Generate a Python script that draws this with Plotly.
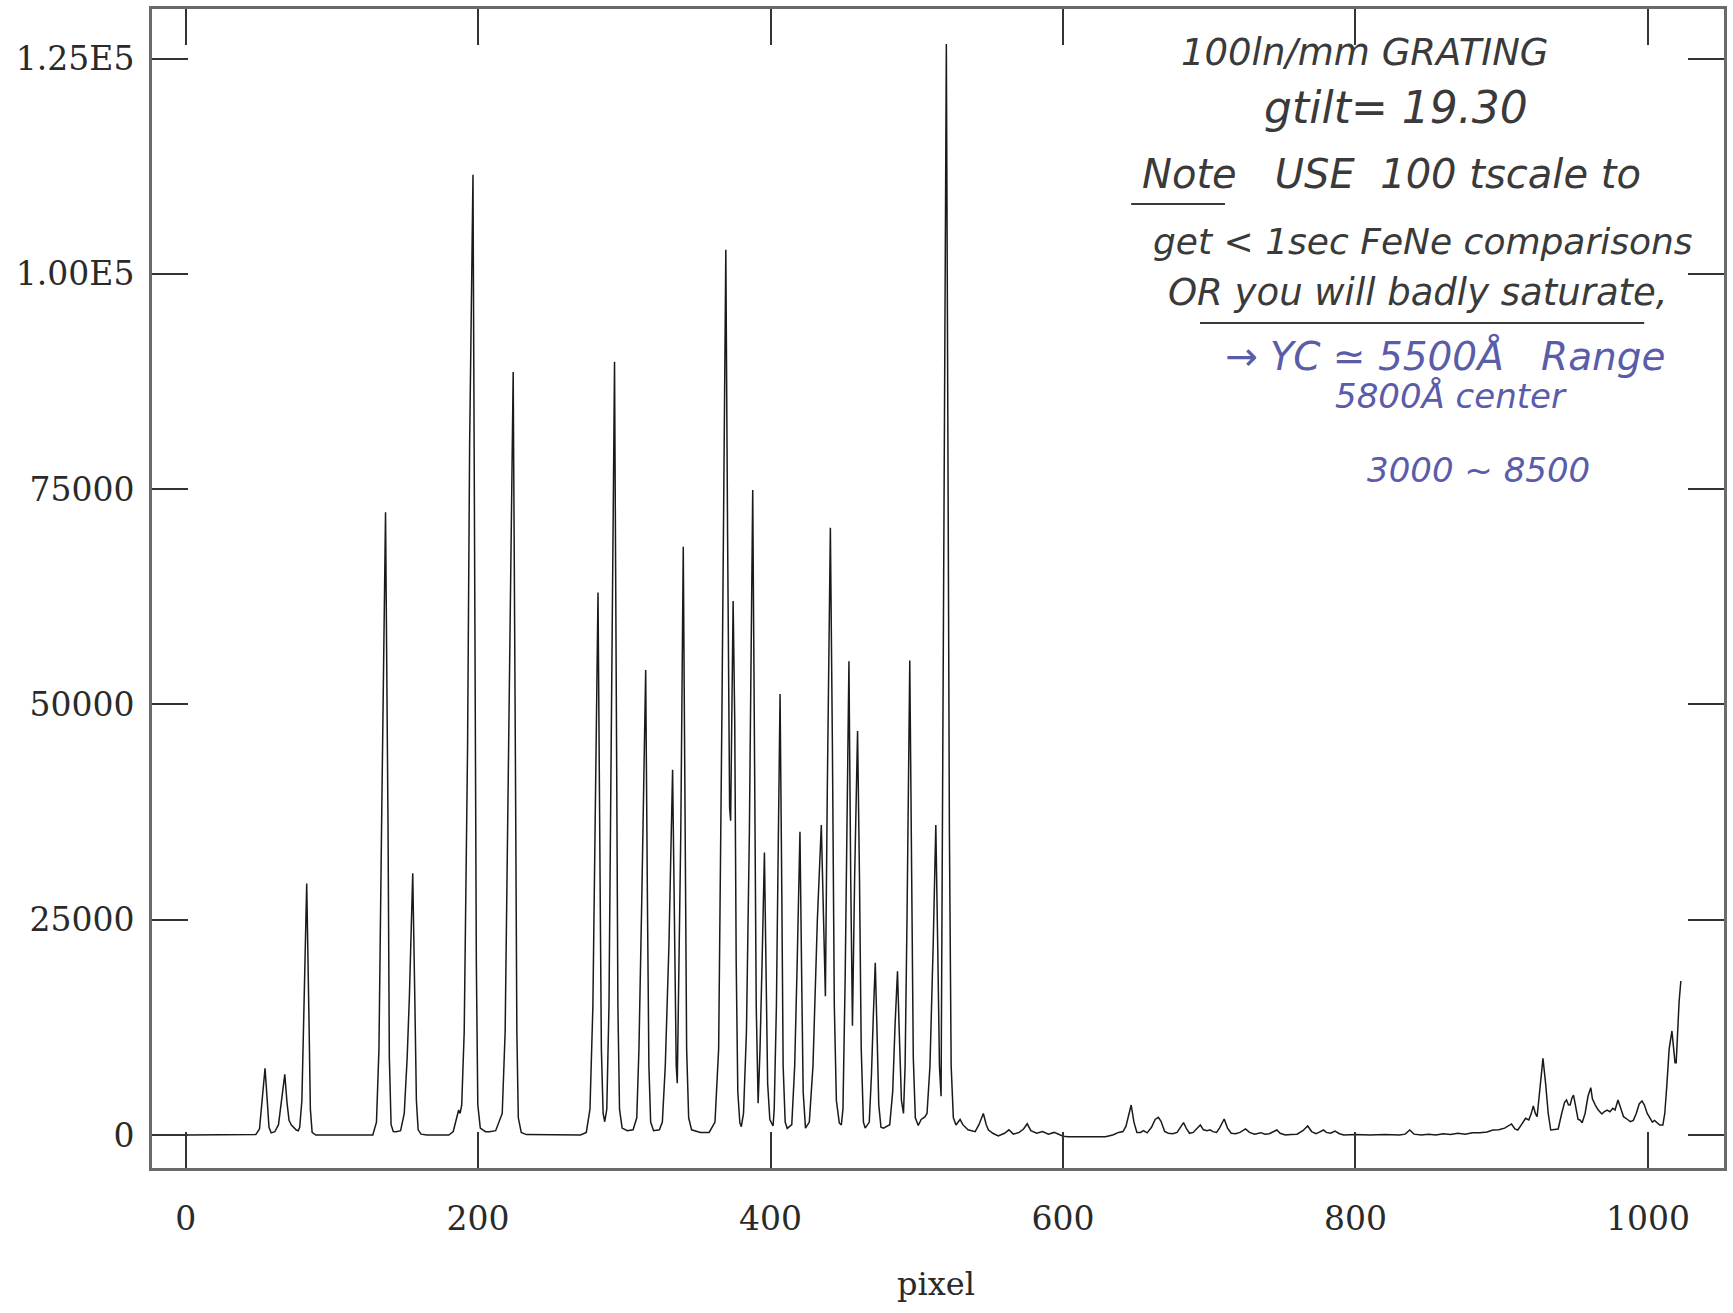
import plotly.graph_objects as go

# ---- data (pixel, counts) ----
pixel = [
    0, 20, 40, 48, 50.5, 52, 54.3, 55.8, 57, 58.5, 61,
    63.5, 65.5, 67.8, 69.3, 70.7, 72.3, 74, 75.7, 77,
    78, 79.5, 80.5, 82.8, 84.3, 85.3, 86.5, 89, 110, 128,
    130.5, 132.2, 134, 136.7, 138.4, 139.3, 140.5, 142, 144,
    147, 149.5, 151.5, 153, 155.3, 156.8, 157.8, 159, 161, 165, 180,
    183, 185, 186, 186.7, 187.7, 188.8,
    190.5, 192.8, 194.2, 196.5, 197.8, 198.8, 199.8, 201.5, 205, 207.7,
    212, 216.5, 218.5, 220.8, 224, 225.5, 226.5, 227.5, 229.5, 233, 250, 270,
    274, 276.5, 278.5, 280, 282, 283.4, 284.3, 285.5, 286.6,
    288, 289.5, 291, 293.3, 294.7, 295.6, 296.7, 298.5, 302, 306,
    308.5, 310, 312, 314.6, 315.8, 316.8, 318, 320, 324,
    326, 328, 330.5, 333, 334.3, 335.5, 336.2,
    337.5, 338.6, 340.3, 341.6, 342.6, 344, 346, 352, 358,
    362, 364.5, 366.8, 369.4, 370.6, 372, 372.7,
    373.5, 374.4, 375.5, 376.5, 377.6, 379, 380,
    381.5, 383.5, 385.5, 387.8, 389, 390.2, 391.5,
    392.8, 394.2, 395.8, 397, 398, 399.5, 401.7,
    402.5, 404, 405, 406.5, 407.7, 408.6, 410, 411.4,
    414.5, 416.5, 418.2, 420.1, 421.3, 422.3, 423.9,
    426.5, 429, 432, 434.7, 436, 437.5,
    438.8, 440.9, 442.3, 443.6, 445, 447, 448.4,
    449.5, 451, 452.2, 453.6, 454.8, 456,
    457.5, 459.5, 460.8, 462, 463.5, 464.7,
    467.5, 469, 470.3, 471.6, 472.8, 474, 475.5, 477.2,
    481.5, 483.5, 485.2, 486.8, 488, 489.5, 490.9,
    492, 493.3, 495.2, 496.5, 497.6, 499, 501, 503, 505.5, 507,
    509, 511.2, 513, 514.3, 515.5, 516.6,
    517.6, 518.8, 520.2, 521.3, 522.3, 523.5, 525, 526.8,
    528, 529.6, 531.5, 535, 539.9, 542.5, 545.5, 547.5, 549, 552, 555.7,
    560, 563, 566, 570, 573, 575.5, 578, 582, 586, 590, 594, 600, 603.6,
    629, 634, 638, 641, 643, 646.6, 648.5, 650.5, 653, 655, 657.5,
    660.5, 663, 665.2, 667, 669.5, 672, 675, 678, 680, 682.4, 684.5,
    686.5, 689, 691.5, 693.9, 696, 698.5, 700.5, 702.5, 705, 707,
    710.2, 712.5, 715, 718, 721, 724.8, 727.5, 731, 735.3, 738, 741,
    744, 746.2, 748.5, 752, 756, 760, 764, 767.3, 770, 773, 775,
    778.1, 780, 783, 786, 789, 792, 800, 810, 820, 830, 834,
    837.1, 840, 845, 850, 855, 860, 865, 870, 875, 880, 885,
    890, 894, 898, 902, 905, 906.7, 909, 911, 913.5, 916.3, 918.5,
    920, 921.6, 923, 924.2, 926, 928.2, 930, 931.8, 933.5, 936, 938.6,
    941, 943, 944.3, 945.6, 946.8, 948, 949.1, 950.5, 952.2, 953.5, 955,
    957, 959, 960.9, 962, 964, 966, 968.5, 970, 972, 974, 976,
    977.5, 979.5, 981, 983.3, 986, 988, 990, 992, 994, 995.9, 997.5,
    999.5, 1001.5, 1003, 1004.5, 1006, 1008, 1010.2, 1011.5, 1013, 1014.5,
    1016.4, 1017.5, 1018.5, 1019.3, 1020.3, 1021.3, 1022.5,
]
counts = [
    0, 0, 0, 50, 700, 3800, 7750, 4000, 900, 250, 380,
    1200, 3800, 7040, 3800, 1700, 1160, 800, 580, 500,
    900, 4000, 12000, 29200, 14000, 3000, 300, 0, 0, 0,
    1500, 10000, 36000, 72300, 36000, 9000, 1200, 400, 380,
    500, 2500, 9000, 16000, 30400, 15000, 4000, 600, 100, 0, 0,
    400, 1800, 2700, 2900, 2500, 3500,
    12000, 45000, 80000, 111500, 60000, 20000, 3500, 800, 380, 380,
    500, 2500, 12000, 44000, 88600, 44000, 12000, 2000, 300, 50, 0, 0,
    300, 3000, 15000, 35000, 63000, 30000, 10000, 2500, 1540,
    3000, 15000, 45000, 89800, 45000, 15000, 3000, 800, 500, 600,
    2000, 10000, 28000, 54000, 27000, 8000, 1500, 500, 600,
    1500, 8000, 22000, 42400, 22000, 8000, 6000,
    20000, 35000, 68300, 34000, 10000, 2000, 600, 300, 300,
    1500, 10000, 50000, 102800, 70000, 38000, 36500,
    50000, 62000, 48000, 20000, 5000, 1400, 970,
    2500, 12000, 35000, 74900, 50000, 15000, 3700,
    10000, 20000, 32800, 18000, 6000, 1800, 1050,
    3000, 15000, 30000, 51200, 28000, 8000, 1500, 770,
    1200, 8000, 20000, 35200, 18000, 5000, 800,
    1500, 8000, 25000, 36000, 25000, 16100,
    40000, 70500, 45000, 15000, 4000, 1400, 1160,
    3000, 18000, 35000, 55000, 30000, 12700,
    30000, 46900, 30000, 10000, 1500, 800,
    1500, 7000, 14000, 20000, 12000, 3500, 900, 800,
    1200, 5000, 13000, 19000, 12000, 4000, 2500,
    8000, 25000, 55100, 30000, 9000, 2000, 1100, 1800, 2100, 2500,
    8000, 22000, 36000, 22000, 8000, 4500,
    40000, 85000, 126700, 80000, 35000, 8000, 2000, 1160,
    1500, 1800, 1200, 600, 390, 1200, 2500, 1200, 580, 200, -100,
    200, 600, 100, 300, 700, 1300, 500, 200, 400, 100, 300, -150, -190,
    -190, 0, 300, 400, 1000, 3480, 1500, 300, 300, 500, 250,
    900, 1800, 2050, 1600, 400, 200, 150, 300, 800, 1430, 700,
    200, 300, 700, 1160, 600, 500, 600, 390, 300, 800,
    1860, 800, 200, 150, 300, 700, 300, 100, 270, 100, 150,
    350, 580, 200, 0, 50, 100, 500, 1045, 400, 150, 300,
    580, 300, 200, 460, 150, 0, 50, 0, 50, 0, 100,
    580, 100, 0, 100, 0, 150, 50, 200, 100, 250, 250,
    350, 580, 600, 800, 1100, 1280, 700, 580, 1200, 1935, 1740,
    2400, 3370, 2500, 2120, 5500, 8900, 6000, 2500, 580, 650, 700,
    2500, 3800, 4060, 3500, 3480, 4300, 4640, 3200, 1800, 1740, 1430,
    2500, 4500, 5500, 4200, 3480, 2900, 2440, 2700, 2900, 2700, 3100,
    2900, 4060, 3300, 2130, 1800, 1550, 1700, 2500, 3600, 3950, 3500,
    2500, 1935, 1500, 1700, 1500, 1160, 1160, 2500, 6000, 10000,
    12080, 10500, 8400, 8400, 12000, 15500, 17880,
]

x_tick_vals = [0, 200, 400, 600, 800, 1000]
x_tick_text = ["0", "200", "400", "600", "800", "1000"]
y_tick_vals = [0, 25000, 50000, 75000, 100000, 125000]
y_tick_text = ["0", "25000", "50000", "75000", "1.00E5", "1.25E5"]

notes_black = [
    "100ln/mm GRATING",
    "gtilt=&#160;19.30",
    "Note&#160;&#160;&#160;USE&#160;&#160;100 tscale to",
    "get &lt; 1sec FeNe comparisons",
    "OR you will badly saturate,",
]
notes_blue = [
    "\u2192 YC \u2243 5500\u00c5&#160;&#160;&#160;Range",
    "5800\u00c5 center",
    "3000 ~ 8500",
]

# ---- layout geometry (pixels) ----
W, H = 1733, 1313
L, R, T, B = 152, 1727, 9, 1168


def px(x):
    return (x - L) / (R - L)


def py(y):
    return (B - y) / (B - T)


fig = go.Figure()
fig.add_trace(go.Scatter(
    x=pixel, y=counts, mode="lines",
    line=dict(color="#1a1a1a", width=1.5),
    showlegend=False, hoverinfo="skip",
))

tickfont = dict(family="DejaVu Serif", size=33, color="#2a2a2a")
axis_common = dict(
    ticks="inside", ticklen=36, tickwidth=2, tickcolor="#333",
    showline=True, linecolor="#6a6a6a", linewidth=3, mirror="ticks",
    showgrid=False, zeroline=False, tickfont=tickfont,
)

fig.update_layout(
    width=W, height=H, autosize=False,
    margin=dict(l=L, r=W - R, t=T, b=H - B),
    paper_bgcolor="white", plot_bgcolor="white",
    xaxis=dict(range=[-23, 1052], tickvals=x_tick_vals, ticktext=x_tick_text,
               ticklabelstandoff=19, **axis_common),
    yaxis=dict(range=[-3832, 130750], tickvals=y_tick_vals, ticktext=y_tick_text,
               ticklabelstandoff=8, **axis_common),
)

annotations = [dict(
    text="pixel", x=px(937), y=py(1284), xref="paper", yref="paper",
    showarrow=False, xanchor="center", yanchor="middle",
    font=dict(family="DejaVu Serif", size=32, color="#2a2a2a"),
)]

black_pos = [(1367, 53, 37), (1398, 107, 44), (1394, 174, 40), (1425, 241, 36), (1420, 292, 37)]
for t, (x, y, s) in zip(notes_black, black_pos):
    annotations.append(dict(
        text=t, x=px(x), y=py(y), xref="paper", yref="paper",
        showarrow=False, xanchor="center", yanchor="middle",
        font=dict(family="DejaVu Sans", size=s, color="#3a3a3a", style="italic"),
    ))
blue_pos = [(1448, 356, 39), (1453, 396, 34), (1481, 470, 34)]
for t, (x, y, s) in zip(notes_blue, blue_pos):
    annotations.append(dict(
        text=t, x=px(x), y=py(y), xref="paper", yref="paper",
        showarrow=False, xanchor="center", yanchor="middle",
        font=dict(family="DejaVu Sans", size=s, color="#5a5caa", style="italic"),
    ))
fig.update_layout(annotations=annotations)

for (x0, x1, y) in [(1133, 1227, 204), (1202, 1647, 323)]:
    fig.add_shape(type="line", xref="paper", yref="paper",
                  x0=px(x0), x1=px(x1), y0=py(y), y1=py(y),
                  line=dict(color="#3a3a3a", width=2))

fig.write_html("out.html")
